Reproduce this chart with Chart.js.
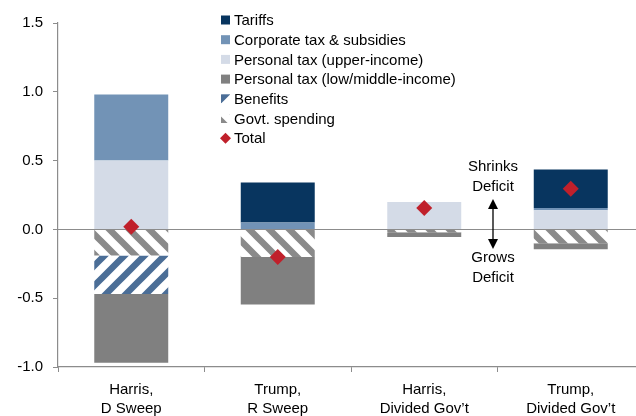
<!DOCTYPE html>
<html><head><meta charset="utf-8">
<script src="https://cdn.jsdelivr.net/npm/chart.js@4"></script>
<style>
html,body{margin:0;padding:0;background:#fff;overflow:hidden;width:636px;height:416px}
#wrap{width:636px;height:416px;overflow:hidden;position:relative}
canvas{display:block}
</style></head>
<body><div id="wrap"><canvas id="c" width="660" height="416"></canvas></div>
<script>
const categories = [["Harris,","D Sweep"],["Trump,","R Sweep"],["Harris,","Divided Gov\u2019t"],["Trump,","Divided Gov\u2019t"]];
const tariffs        = [0,     0.29,  0,     0.28];
const corporateTax   = [0.48,  0.05,  0,     0.015];
const personalUpper  = [0.50,  0,     0.20,  0.14];
const govtSpending   = [-0.19, -0.20, -0.02, -0.10];
const benefits       = [-0.28, 0,     0,     0];
const personalLowMid = [-0.50, -0.345,-0.035,-0.045];
const total          = [0.02,  -0.20, 0.155, 0.295];
const yTicks = [-1.0, -0.5, 0.0, 0.5, 1.0, 1.5];
const legendLabels = ["Tariffs","Corporate tax & subsidies","Personal tax (upper-income)","Personal tax (low/middle-income)","Benefits","Govt. spending","Total"];

const FONT = "'Liberation Sans', Arial, sans-serif";
const C = {tariffs:'#08355f', corp:'#7293b6', upper:'#d4dbe7', low:'#808080', blue:'#4b6e97', gray:'#8a8a8a', red:'#c0202b', axis:'#8c8c8c'};

function hatch(color, dir){
  const s = 20, c = document.createElement('canvas'); c.width = s; c.height = s;
  const g = c.getContext('2d');
  g.fillStyle = '#fff'; g.fillRect(0,0,s,s);
  g.strokeStyle = color; g.lineWidth = 6.5;
  g.beginPath();
  for (let k=-1;k<=1;k++){
    if (dir === 'back'){ g.moveTo(k*s-3, -3); g.lineTo(k*s+s+3, s+3); }
    else { g.moveTo(k*s-3, s+3); g.lineTo(k*s+s+3, -3); }
  }
  g.stroke();
  return document.getElementById('c').getContext('2d').createPattern(c, 'repeat');
}
const grayHatch = hatch(C.gray, 'back');
const blueHatch = hatch(C.blue, 'fwd');

const legendItems = [
  {t:legendLabels[0], f:C.tariffs},
  {t:legendLabels[1], f:C.corp},
  {t:legendLabels[2], f:C.upper},
  {t:legendLabels[3], f:C.low},
  {t:legendLabels[4], f:blueHatch},
  {t:legendLabels[5], f:grayHatch},
  {t:legendLabels[6], f:C.red, diamond:true}
];

const overlay = {
  id:'overlay',
  beforeDatasetDraw(chart, args){
    if (args.meta.type !== 'line') return;
    const ctx = chart.ctx, a = chart.chartArea, y = Math.round(chart.scales.y.getPixelForValue(0)) + 0.5;
    ctx.save(); ctx.strokeStyle = C.axis; ctx.lineWidth = 1.2;
    ctx.beginPath(); ctx.moveTo(a.left, y); ctx.lineTo(a.right, y); ctx.stroke(); ctx.restore();
  },
  afterDraw(chart){
    const ctx = chart.ctx;
    ctx.save();
    ctx.font = '15px ' + FONT; ctx.textBaseline = 'middle'; ctx.fillStyle = '#000';
    legendItems.forEach((it, i) => {
      const yc = 20 + i*19.7;
      if (it.diamond){
        ctx.fillStyle = it.f; ctx.beginPath();
        ctx.moveTo(225.5, yc-5.5); ctx.lineTo(231, yc); ctx.lineTo(225.5, yc+5.5); ctx.lineTo(220, yc); ctx.closePath(); ctx.fill();
      } else {
        ctx.fillStyle = it.f; ctx.fillRect(221, yc-4.5, 9, 9);
      }
      ctx.fillStyle = '#000'; ctx.textAlign = 'left';
      ctx.fillText(it.t, 234, yc+1);
    });
    // annotation
    const x = 493;
    ctx.textAlign = 'center';
    ctx.fillText('Shrinks', x, 167); ctx.fillText('Deficit', x, 187);
    ctx.fillText('Grows', x, 258); ctx.fillText('Deficit', x, 278);
    ctx.strokeStyle = '#000'; ctx.lineWidth = 1.3;
    ctx.beginPath(); ctx.moveTo(x, 205); ctx.lineTo(x, 243); ctx.stroke();
    ctx.fillStyle = '#000';
    ctx.beginPath(); ctx.moveTo(x, 199); ctx.lineTo(x-5, 209); ctx.lineTo(x+5, 209); ctx.closePath(); ctx.fill();
    ctx.beginPath(); ctx.moveTo(x, 249); ctx.lineTo(x-5, 239); ctx.lineTo(x+5, 239); ctx.closePath(); ctx.fill();
    ctx.restore();
  }
};

const barCommon = {type:'bar', borderWidth:0, barPercentage:0.505, categoryPercentage:1, stack:'s'};
new Chart(document.getElementById('c'), {
  data: {
    labels: categories,
    datasets: [
      {...barCommon, label:legendLabels[2], data:personalUpper, backgroundColor:C.upper},
      {...barCommon, label:legendLabels[1], data:corporateTax, backgroundColor:C.corp},
      {...barCommon, label:legendLabels[0], data:tariffs, backgroundColor:C.tariffs},
      {...barCommon, label:legendLabels[5], data:govtSpending, backgroundColor:grayHatch},
      {...barCommon, label:legendLabels[4], data:benefits, backgroundColor:blueHatch},
      {...barCommon, label:legendLabels[3], data:personalLowMid, backgroundColor:C.low},
      {type:'line', label:legendLabels[6], data:total, showLine:false, pointStyle:'rectRot', pointRadius:8, pointHoverRadius:8,
       backgroundColor:C.red, borderColor:C.red, borderWidth:0, stack:'total', order:-1}
    ]
  },
  options: {
    responsive:false, animation:false, devicePixelRatio:1,
    layout:{padding:{top:23, right:16, left:0, bottom:0}},
    plugins:{legend:{display:false}, tooltip:{enabled:false}},
    scales:{
      x:{stacked:true, offset:true,
         grid:{offset:true, drawOnChartArea:false, drawTicks:true, tickLength:5, tickColor:C.axis},
         border:{color:C.axis, width:1.2},
         ticks:{color:'#000', font:{size:15, family:FONT, lineHeight:1.28}, padding:8, maxRotation:0, autoSkip:false},
         afterFit(s){ s.height = 49; }},
      y:{stacked:true, min:-1, max:1.5,
         grid:{drawOnChartArea:false, drawTicks:true, tickLength:5, tickColor:C.axis},
         border:{color:C.axis, width:1.2},
         ticks:{color:'#000', font:{size:15, family:FONT}, padding:10, callback:v => Number(v).toFixed(1)},
         afterBuildTicks(s){ s.ticks = yTicks.map(v => ({value:v})); },
         afterFit(s){ s.width = 58; }}
    }
  },
  plugins:[overlay]
});
</script>
</body></html>
